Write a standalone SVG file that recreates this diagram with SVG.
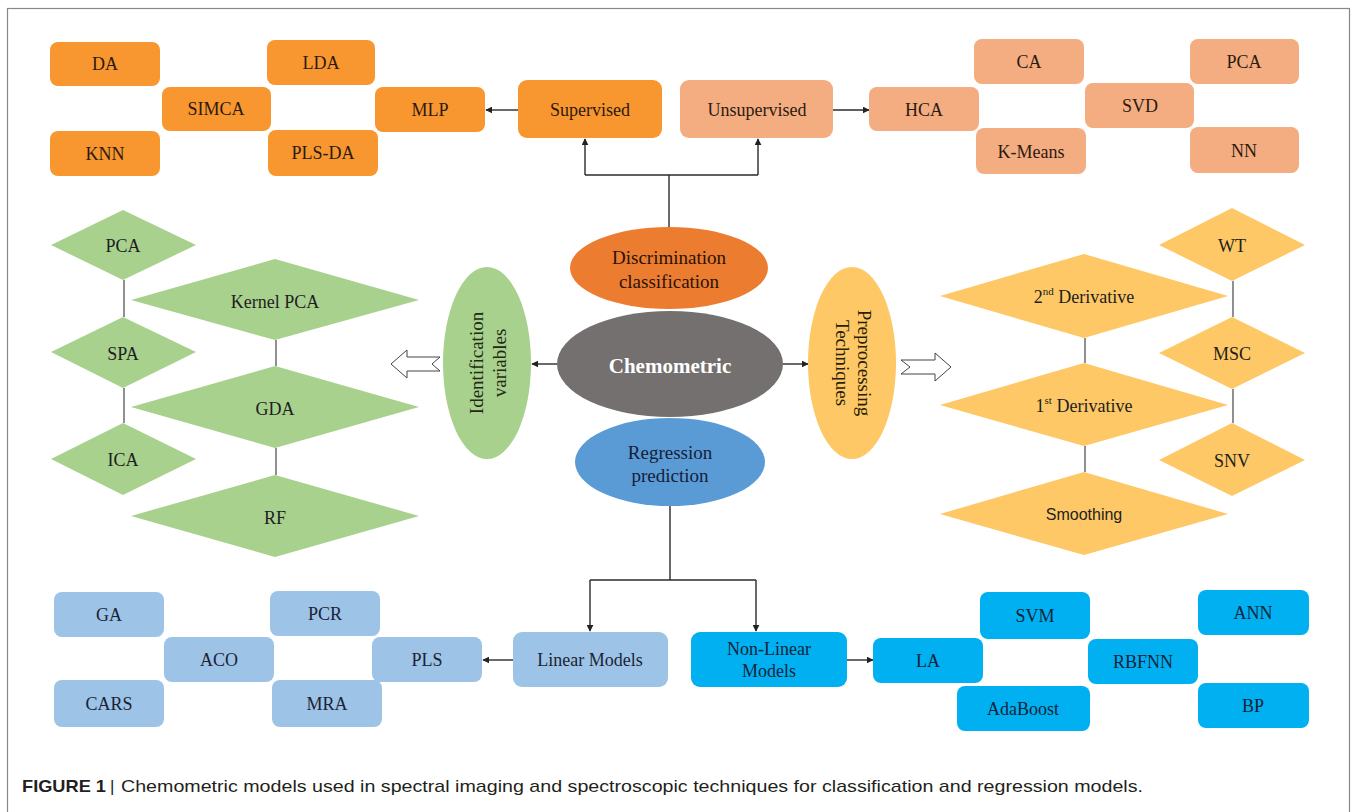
<svg xmlns="http://www.w3.org/2000/svg" width="1358" height="812" viewBox="0 0 1358 812">
<defs>
<marker id="ah" viewBox="0 0 10 10" refX="9" refY="5" markerWidth="7" markerHeight="7" markerUnits="userSpaceOnUse" orient="auto">
<path d="M0,0 L10,5 L0,10 z" fill="#222"/>
</marker>
</defs>
<style>
text{font-family:"Liberation Serif","Times New Roman",serif;font-size:18px;text-anchor:middle;dominant-baseline:central;fill:#1e1e1e}
.o rect{fill:#F8962F}
.o text{fill:#2c1a10}
.s rect{fill:#F3AD80}
.s text{fill:#2c1a10}
.lb rect{fill:#9DC3E6}
.lb text{fill:#1a2436}
.bb rect{fill:#00B0F0}
.bb text{fill:#14243a}
.g polygon{fill:#A9D18E}
.y polygon{fill:#FDC865}
.conn line,.conn path{stroke:#2a2a2a;stroke-width:1.4;fill:none}
.thin line{stroke:#555;stroke-width:1.3}
.hollow{fill:#fff;stroke:#444;stroke-width:1}
text.el{font-size:19px}
text.chem{font-size:21px;font-weight:bold;fill:#fff}
text.sans{font-family:"Liberation Sans",Arial,sans-serif;font-size:16px}
text.cap{font-family:"Liberation Sans",Arial,sans-serif;font-size:17px;text-anchor:start;dominant-baseline:auto;fill:#231f20}
tspan.sup{font-size:11px}
</style>
<rect x="7.5" y="8.5" width="1342" height="830" fill="#fff" stroke="#888" stroke-width="1.2"/>

<!-- connectors -->
<g class="conn">
<line x1="669" y1="228" x2="669" y2="175"/>
<path d="M585,175 H758"/>
<line x1="585" y1="175" x2="585" y2="139" marker-end="url(#ah)"/>
<line x1="758" y1="175" x2="758" y2="139" marker-end="url(#ah)"/>
<line x1="518" y1="110" x2="486" y2="110" marker-end="url(#ah)"/>
<line x1="833" y1="110" x2="869" y2="110" marker-end="url(#ah)"/>
<line x1="557" y1="364" x2="532" y2="364" marker-end="url(#ah)"/>
<line x1="783" y1="364" x2="808" y2="364" marker-end="url(#ah)"/>
<line x1="670" y1="506" x2="670" y2="580"/>
<path d="M590,580 H756"/>
<line x1="590" y1="580" x2="590" y2="631" marker-end="url(#ah)"/>
<line x1="756" y1="580" x2="756" y2="631" marker-end="url(#ah)"/>
<line x1="513" y1="660" x2="483" y2="660" marker-end="url(#ah)"/>
<line x1="847" y1="660" x2="873" y2="660" marker-end="url(#ah)"/>
</g>
<g class="thin">
<line x1="124" y1="280" x2="124" y2="317"/>
<line x1="124" y1="388" x2="124" y2="423"/>
<line x1="276" y1="340" x2="276" y2="366"/>
<line x1="276" y1="448" x2="276" y2="475"/>
<line x1="1085" y1="338" x2="1085" y2="363"/>
<line x1="1085" y1="446" x2="1085" y2="472"/>
<line x1="1233" y1="281" x2="1233" y2="317"/>
<line x1="1233" y1="389" x2="1233" y2="423"/>
</g>
<!-- hollow arrows -->
<path class="hollow" d="M391,364 L407,350 L407,357 L440,357 L432,364 L440,371 L407,371 L407,378 Z"/>
<path class="hollow" d="M951,367 L935,353 L935,360 L901,360 L910,367 L901,374 L935,374 L935,381 Z"/>

<!-- top left supervised group -->
<g class="o">
<g id="n-da"><rect x="50" y="42" width="110" height="44" rx="8"/><text x="105" y="64">DA</text></g>
<g id="n-simca"><rect x="162" y="87" width="109" height="44" rx="8"/><text x="216" y="109">SIMCA</text></g>
<g id="n-lda"><rect x="267" y="40" width="108" height="45" rx="8"/><text x="321" y="63">LDA</text></g>
<g id="n-knn"><rect x="50" y="131" width="110" height="45" rx="8"/><text x="105" y="154">KNN</text></g>
<g id="n-plsda"><rect x="268" y="130" width="110" height="46" rx="8"/><text x="323" y="153">PLS-DA</text></g>
<g id="n-mlp"><rect x="375" y="87" width="110" height="45" rx="8"/><text x="430" y="110">MLP</text></g>
<g id="n-supervised"><rect x="518" y="80" width="144" height="58" rx="9"/><text x="590" y="110">Supervised</text></g>
</g>
<g class="s">
<g id="n-unsupervised"><rect x="680" y="80" width="153" height="58" rx="9"/><text x="757" y="110">Unsupervised</text></g>
<g id="n-hca"><rect x="869" y="87" width="110" height="44" rx="8"/><text x="924" y="110">HCA</text></g>
<g id="n-ca"><rect x="974" y="39" width="110" height="45" rx="8"/><text x="1029" y="62">CA</text></g>
<g id="n-kmeans"><rect x="976" y="128" width="110" height="46" rx="8"/><text x="1031" y="152">K-Means</text></g>
<g id="n-svd"><rect x="1085" y="83" width="109" height="45" rx="8"/><text x="1140" y="106">SVD</text></g>
<g id="n-pca-u"><rect x="1190" y="39" width="109" height="45" rx="8"/><text x="1244" y="62">PCA</text></g>
<g id="n-nn"><rect x="1190" y="127" width="109" height="46" rx="8"/><text x="1244" y="151">NN</text></g>
</g>

<!-- central ellipses -->
<g id="n-discrimination"><ellipse cx="669" cy="268" rx="99" ry="41" fill="#EC7C30"/><text class="el" x="669" y="257" style="fill:#2a1208">Discrimination</text><text class="el" x="669" y="281" style="fill:#2a1208">classification</text></g>
<g id="n-chemometric"><ellipse cx="670" cy="364" rx="113" ry="53" fill="#757070"/><text class="chem" x="670" y="366">Chemometric</text></g>
<g id="n-regression"><ellipse cx="670" cy="462" rx="95" ry="44" fill="#5B9BD5"/><text class="el" x="670" y="452" style="fill:#14203a">Regression</text><text class="el" x="670" y="475" style="fill:#14203a">prediction</text></g>
<g id="n-identification"><ellipse cx="487" cy="363" rx="44" ry="96" fill="#A9D18E"/><text class="el" transform="translate(476,363) rotate(-90)" style="fill:#1e2a14">Identification</text><text class="el" transform="translate(499,363) rotate(-90)" style="fill:#1e2a14">variables</text></g>
<g id="n-preprocessing"><ellipse cx="852" cy="363" rx="44" ry="96" fill="#FDC865"/><text class="el" transform="translate(864,363) rotate(90)" style="fill:#2a1e08">Preprocessing</text><text class="el" transform="translate(842,363) rotate(90)" style="fill:#2a1e08">Techniques</text></g>

<!-- green diamonds -->
<g class="g">
<g id="n-pca-g"><polygon points="51,245 123,210 196,245 123,280"/><text x="123" y="246">PCA</text></g>
<g id="n-spa"><polygon points="51,352 123,317 196,352 123,388"/><text x="123" y="354">SPA</text></g>
<g id="n-ica"><polygon points="51,459 123,423 196,459 123,495"/><text x="123" y="460">ICA</text></g>
<g id="n-kpca"><polygon points="131,300 275,259 419,300 275,340"/><text x="275" y="302">Kernel PCA</text></g>
<g id="n-gda"><polygon points="131,407 275,366 419,407 275,448"/><text x="275" y="409">GDA</text></g>
<g id="n-rf"><polygon points="131,516 275,475 419,516 275,557"/><text x="275" y="518">RF</text></g>
</g>

<!-- yellow diamonds -->
<g class="y">
<g id="n-d2"><polygon points="940,296 1084,254 1228,296 1084,338"/><text x="1084" y="297">2<tspan class="sup" dy="-6">nd</tspan><tspan dy="6"> Derivative</tspan></text></g>
<g id="n-d1"><polygon points="940,405 1084,363 1228,405 1084,446"/><text x="1084" y="406">1<tspan class="sup" dy="-6">st</tspan><tspan dy="6"> Derivative</tspan></text></g>
<g id="n-smoothing"><polygon points="940,514 1084,472 1228,514 1084,555"/><text class="sans" x="1084" y="514">Smoothing</text></g>
<g id="n-wt"><polygon points="1159,245 1232,208 1305,245 1232,281"/><text x="1232" y="246">WT</text></g>
<g id="n-msc"><polygon points="1159,353 1232,317 1305,353 1232,389"/><text x="1232" y="354">MSC</text></g>
<g id="n-snv"><polygon points="1159,460 1232,423 1305,460 1232,496"/><text x="1232" y="461">SNV</text></g>
</g>

<!-- bottom left linear group -->
<g class="lb">
<g id="n-linear"><rect x="513" y="632" width="155" height="55" rx="9"/><text x="590" y="660">Linear Models</text></g>
<g id="n-ga"><rect x="54" y="592" width="110" height="45" rx="8"/><text x="109" y="615">GA</text></g>
<g id="n-aco"><rect x="164" y="637" width="110" height="45" rx="8"/><text x="219" y="660">ACO</text></g>
<g id="n-pcr"><rect x="270" y="591" width="110" height="45" rx="8"/><text x="325" y="614">PCR</text></g>
<g id="n-pls"><rect x="372" y="637" width="110" height="45" rx="8"/><text x="427" y="660">PLS</text></g>
<g id="n-cars"><rect x="54" y="680" width="110" height="47" rx="8"/><text x="109" y="704">CARS</text></g>
<g id="n-mra"><rect x="272" y="680" width="110" height="47" rx="8"/><text x="327" y="704">MRA</text></g>
</g>

<!-- bottom right non-linear group -->
<g class="bb">
<g id="n-nonlinear"><rect x="691" y="632" width="156" height="55" rx="9"/><text x="769" y="649">Non-Linear</text><text x="769" y="671">Models</text></g>
<g id="n-la"><rect x="873" y="638" width="110" height="45" rx="8"/><text x="928" y="661">LA</text></g>
<g id="n-svm"><rect x="980" y="592" width="110" height="47" rx="8"/><text x="1035" y="616">SVM</text></g>
<g id="n-adaboost"><rect x="957" y="686" width="133" height="45" rx="8"/><text x="1023" y="709">AdaBoost</text></g>
<g id="n-rbfnn"><rect x="1088" y="639" width="110" height="45" rx="8"/><text x="1143" y="662">RBFNN</text></g>
<g id="n-ann"><rect x="1198" y="590" width="111" height="45" rx="8"/><text x="1253" y="613">ANN</text></g>
<g id="n-bp"><rect x="1198" y="683" width="111" height="45" rx="8"/><text x="1253" y="706">BP</text></g>
</g>

<!-- caption -->
<text class="cap" x="22" y="792" font-weight="bold" textLength="84" lengthAdjust="spacingAndGlyphs">FIGURE 1</text>
<text class="cap" x="110" y="792">|</text>
<text class="cap" x="121" y="792" textLength="1022" lengthAdjust="spacingAndGlyphs">Chemometric models used in spectral imaging and spectroscopic techniques for classification and regression models.</text>
</svg>
